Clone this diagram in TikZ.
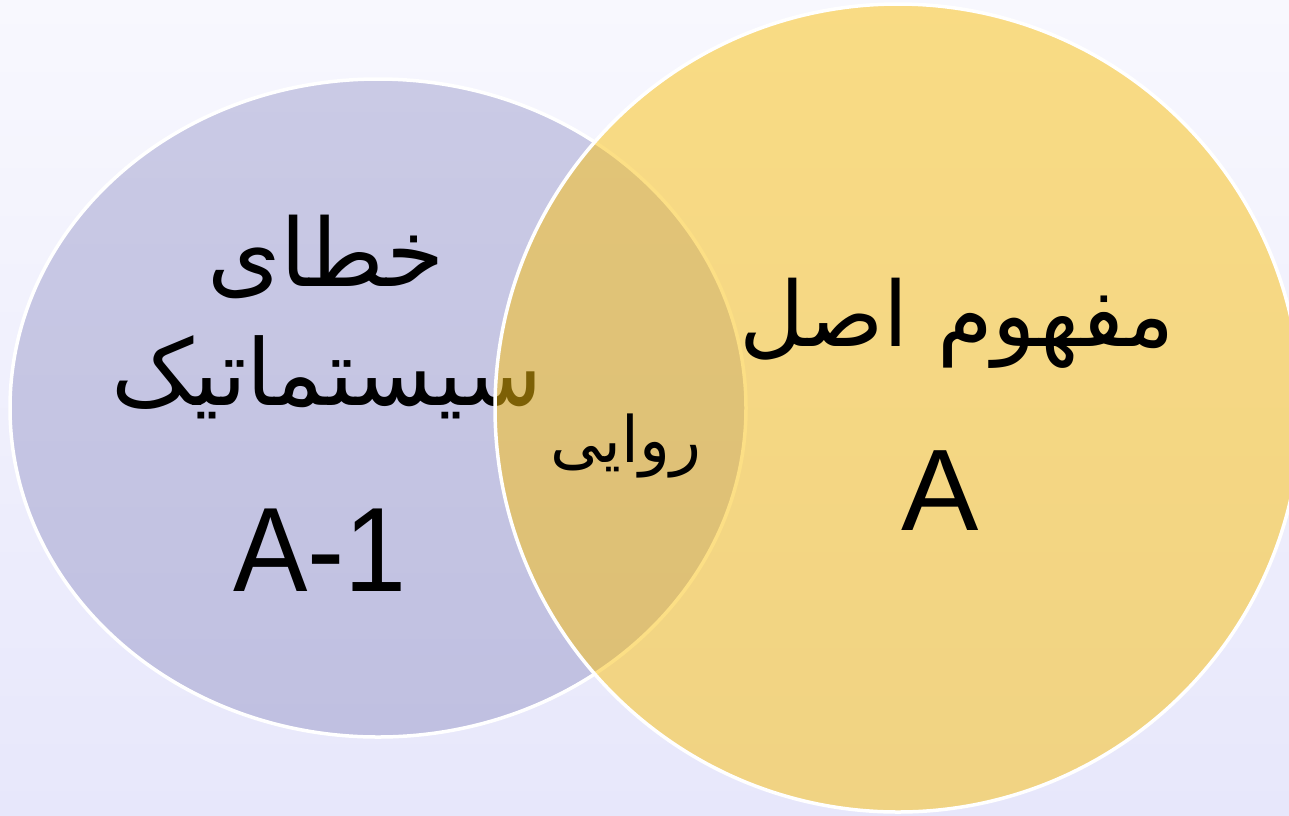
\documentclass[tikz,border=0pt]{standalone}
\usepackage{fontspec}
\setmainfont{Liberation Sans}
\newfontfamily\arabicfont[Script=Arabic]{DejaVu Sans}
\TeXXeTstate=1
\definecolor{bgtop}{HTML}{F8F8FE}
\definecolor{bgbot}{HTML}{E7E7FB}
\definecolor{lavtop}{HTML}{CACAE5}
\definecolor{lavbot}{HTML}{C0C0E1}
\definecolor{gold}{HTML}{FAC00C}
\tikzset{
  rim/.style={draw=white, line width=3.5pt},
  artext/.style={anchor=base, inner sep=0pt, text=black},
  latext/.style={anchor=base, inner sep=0pt, text=black},
}
\begin{document}
\begin{tikzpicture}[x=1pt,y=-1pt]
\useasboundingbox (0,0) rectangle (1289,815);
\shade[top color=bgtop, bottom color=bgbot] (0,0) rectangle (1289,815);
% left ellipse
\shade[top color=lavtop, bottom color=lavbot] (378,408) ellipse [x radius=368, y radius=329];
\draw[rim] (378,408) ellipse [x radius=368, y radius=329];
\node[artext, font=\arabicfont\fontsize{94}{100}\selectfont] (t1) at (326,286) {\beginR خطای\endR};
\node[artext, font=\arabicfont\fontsize{92}{100}\selectfont] (t2) at (327,405) {\beginR سیستماتیک\endR};
\node[latext, font=\fontsize{120}{130}\selectfont] (t3) at (320,591) {\scalebox{0.93}[1]{A-1}};
% right ellipse
\fill[gold, fill opacity=0.5] (898,408) ellipse [x radius=403, y radius=404];
\draw[rim] (898,408) ellipse [x radius=403, y radius=404];
\node[artext, font=\arabicfont\fontsize{90}{100}\selectfont] (t4) at (957,346) {\beginR مفهوم اصل\endR};
\node[latext, font=\fontsize{116}{125}\selectfont] (t5) at (940,530) {A};
\node[artext, font=\arabicfont\fontsize{64}{70}\selectfont] (t6) at (626,462) {\beginR روایی\endR};
\end{tikzpicture}
\end{document}
